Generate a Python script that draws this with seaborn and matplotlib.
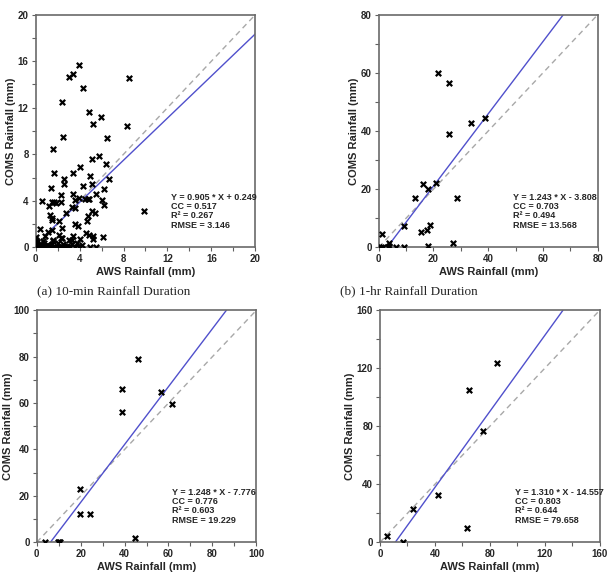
import matplotlib
matplotlib.use("Agg")
import matplotlib.pyplot as plt
import seaborn as sns
from matplotlib.ticker import MultipleLocator

# (a) 10-min
a_x = [3.98, 3.43, 3.03, 4.34, 8.47, 2.40, 4.86, 5.92, 5.22, 8.35, 2.46, 6.53, 1.55, 5.77, 5.13,
       6.37, 4.04, 1.64, 3.37, 4.98, 6.68, 2.55, 2.55, 5.16, 4.28, 1.43, 6.19, 0.58, 1.52, 1.67,
       1.85, 2.28, 2.31, 3.40, 3.98, 4.46, 4.73, 4.89, 3.55, 5.52, 6.04, 6.25, 9.83, 3.34, 3.55,
       1.24, 1.34, 1.46, 1.52, 4.73, 5.16, 5.40, 4.64, 2.09, 2.76, 3.55, 3.82, 2.43, 0.36, 1.09,
       1.49, 0.88, 2.15, 4.58, 4.89, 5.19, 5.25, 6.16, 3.37, 4.07, 3.31, 2.40, 1.61, 0.00, 0.00,
       3.05, 2.30, 1.60, 0.00, 0.09, 0.39, 0.69, 1.00, 1.30, 1.60, 1.90, 2.36, 2.82, 3.12, 3.58,
       3.79, 4.03, 4.19, 4.94, 5.49, 0.15, 0.25, 0.50, 0.60, 0.80, 0.95, 1.15, 1.45, 1.75, 2.05,
       2.20, 2.60, 3.00, 3.30, 3.90, 0.05, 0.45, 0.70, 1.20, 2.50, 0.30, 0.85]
a_y = [15.67, 14.90, 14.67, 13.67, 14.56, 12.46, 11.66, 11.23, 10.63, 10.46, 9.51, 9.37, 8.42, 7.85, 7.56,
       7.16, 6.88, 6.36, 6.42, 6.16, 5.90, 5.85, 5.47, 5.47, 5.27, 5.10, 5.04, 3.95, 3.93, 3.87,
       3.78, 3.87, 4.47, 4.56, 4.24, 4.18, 4.18, 4.13, 4.10, 4.58, 4.07, 3.67, 3.15, 3.47, 3.38,
       3.52, 2.78, 2.49, 2.35, 2.69, 3.12, 2.98, 2.26, 2.23, 2.92, 2.00, 1.86, 1.66, 1.60, 1.35,
       1.52, 0.97, 1.06, 1.20, 1.06, 0.95, 0.72, 0.89, 0.97, 0.74, 0.63, 0.77, 0.54, 0.92, 0.63,
       0.65, 0.80, 0.60, 0.34, 0.20, 0.20, 0.06, 0.20, 0.06, 0.02, 0.06, 0.06, 0.10, 0.06, 0.06,
       0.34, 0.02, 0.20, 0.00, 0.00, 0.45, 0.10, 0.30, 0.00, 0.40, 0.15, 0.00, 0.25, 0.00, 0.35,
       0.00, 0.10, 0.00, 0.30, 0.00, 0.05, 0.00, 0.50, 0.10, 0.25, 0.05, 0.15]

# (b) 1-hr
b_x = [21.6, 25.5, 33.7, 39.0, 25.8, 16.1, 20.9, 18.0, 13.4, 28.5, 9.1, 18.6, 17.5, 15.6, 1.3,
       27.3, 18.1, 3.9, 3.9, 9.4, 6.2, 0.1, 0.9, 1.5, 3.5]
b_y = [59.9, 56.5, 42.9, 44.6, 39.1, 21.8, 22.1, 20.2, 17.1, 16.8, 7.2, 7.8, 6.0, 5.2, 4.4,
       1.6, 0.5, 1.4, 0.5, 0.0, 0.0, 0.0, 0.0, 0.0, 0.0]

# (c)
c_x = [46.1, 39.0, 56.8, 61.8, 39.0, 19.7, 19.9, 24.4, 44.9, 3.6, 9.9, 10.6, 10.2]
c_y = [78.9, 65.9, 64.9, 59.8, 56.2, 23.1, 12.2, 12.2, 2.0, 0.0, 0.3, 0.0, 0.1]

# (d)
d_x = [85.0, 64.8, 75.0, 42.5, 23.8, 4.9, 63.6, 17.0]
d_y = [123.5, 104.9, 76.9, 32.6, 23.2, 4.4, 10.1, 0.0]

slopes = [0.905, 1.243, 1.248, 1.310]
intercepts = [0.249, -3.808, -7.776, -14.557]
stats_text = [
    ["Y = 0.905 * X + 0.249", "CC = 0.517", "R² = 0.267", "RMSE = 3.146"],
    ["Y = 1.243 * X - 3.808", "CC = 0.703", "R² = 0.494", "RMSE = 13.568"],
    ["Y = 1.248 * X - 7.776", "CC = 0.776", "R² = 0.603", "RMSE = 19.229"],
    ["Y = 1.310 * X - 14.557", "CC = 0.803", "R² = 0.644", "RMSE = 79.658"],
]
axis_max = [20, 80, 100, 160]
major_step = [4, 20, 20, 40]
minor_step = [2, 10, 10, 20]
line_start = [0.9, 0, 0, 0]
captions = ["(a) 10-min Rainfall Duration", "(b) 1-hr Rainfall Duration"]

sns.set_style("ticks")
plt.rcParams['font.family'] = ['Liberation Sans', 'DejaVu Sans']

fig = plt.figure(figsize=(6.08, 5.79), dpi=100)
positions = [
    [0.0587, 0.5729, 0.3612, 0.4017],
    [0.6229, 0.5729, 0.3602, 0.4017],
    [0.0604, 0.0634, 0.3612, 0.4007],
    [0.6250, 0.0634, 0.3613, 0.4007],
]
ylabel_x = [-0.089, -0.091, -0.109, -0.112]
data = [(a_x, a_y), (b_x, b_y), (c_x, c_y), (d_x, d_y)]

for i in range(4):
    ax = fig.add_axes(positions[i])
    xs, ys = data[i]
    m = axis_max[i]
    # 1:1 line
    ax.plot([0, m], [0, m], color='#a8a8a8', lw=1.0, dashes=(4, 3), zorder=1)
    # regression line
    a, b = slopes[i], intercepts[i]
    x_lo = max(line_start[i], -b / a)
    x_hi = min(m, (m - b) / a)
    ax.plot([x_lo, x_hi], [a * x_lo + b, a * x_hi + b], color='#5050cc', lw=1.0, zorder=2)
    sns.scatterplot(x=xs, y=ys, marker='x', color='black', s=15, linewidth=1.6, ax=ax, zorder=3)
    ax.set_xlim(0, m)
    ax.set_ylim(0, m)
    ax.xaxis.set_major_locator(MultipleLocator(major_step[i]))
    ax.yaxis.set_major_locator(MultipleLocator(major_step[i]))
    ax.xaxis.set_minor_locator(MultipleLocator(minor_step[i]))
    ax.yaxis.set_minor_locator(MultipleLocator(minor_step[i]))
    ax.tick_params(which='major', length=3, width=0.8, pad=2, labelsize=7, color='#606060')
    ax.tick_params(which='minor', length=3, width=0.8, color='#606060')
    for lab in ax.get_xticklabels() + ax.get_yticklabels():
        lab.set_fontweight('bold')
    for sp in ax.spines.values():
        sp.set_visible(True)
        sp.set_color('#6a6a6a')
        sp.set_linewidth(1.2)
    ax.set_xlabel("AWS Rainfall (mm)", fontsize=8, fontweight='bold', labelpad=2)
    ax.set_ylabel("COMS Rainfall (mm)", fontsize=8, fontweight='bold')
    ax.yaxis.set_label_coords(ylabel_x[i], 0.5)
    for k, t in enumerate(stats_text[i]):
        ax.text(0.615, 0.215 - k * 0.04, t, transform=ax.transAxes, fontsize=6.5,
                fontweight='bold', va='center', ha='left')

fig.text(0.1875, 0.497, captions[0], fontsize=9.5, family='Liberation Serif', ha='center', va='center')
fig.text(0.673, 0.497, captions[1], fontsize=9.5, family='Liberation Serif', ha='center', va='center')

fig.savefig("out.png", dpi=100)
